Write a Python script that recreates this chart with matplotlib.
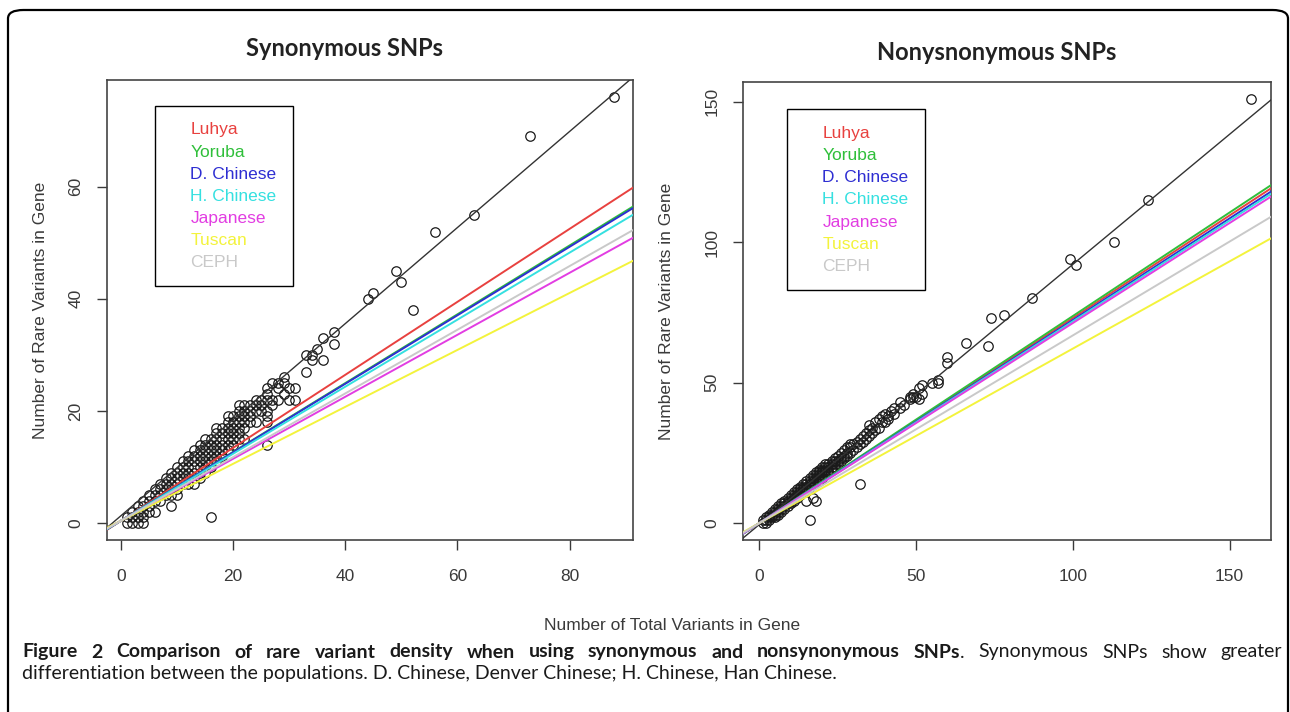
import matplotlib.pyplot as plt
from matplotlib.lines import Line2D
from matplotlib.patches import FancyBboxPatch

# populations shown in the legends and their fitted lines
POPULATIONS = ["Luhya", "Yoruba", "D. Chinese", "H. Chinese", "Japanese", "Tuscan", "CEPH"]
POP_COLORS = ["#e8413f", "#2fbf3a", "#2e2ed2", "#35e0e0", "#e23de2", "#f3f33c", "#c9c9c9"]

# synonymous: total variants -> list of rare variant counts
SYN_POINTS = {
    1: [0, 1], 2: [0, 1, 2], 3: [0, 1, 2, 3], 4: [0, 1, 2, 3, 4],
    5: [2, 3, 4, 5], 6: [2, 4, 5, 6], 7: [4, 5, 6, 7], 8: [5, 6, 7, 8],
    9: [3, 5, 6, 7, 8, 9], 10: [5, 6, 7, 8, 9, 10], 11: [7, 8, 9, 10, 11],
    12: [7, 8, 9, 10, 11, 12], 13: [7, 8, 9, 10, 11, 12, 13],
    14: [8, 9, 10, 11, 12, 13, 14], 15: [9, 10, 11, 12, 13, 14, 15],
    16: [1, 10, 11, 12, 13, 14, 15], 17: [11, 12, 13, 14, 15, 16, 17],
    18: [12, 13, 14, 15, 16, 17], 19: [13, 14, 15, 16, 17, 18, 19],
    20: [14, 15, 16, 17, 18, 19], 21: [15, 16, 17, 18, 19, 20, 21],
    22: [15, 17, 18, 19, 20, 21], 23: [18, 19, 20, 21], 24: [18, 20, 21, 22],
    25: [20, 21, 22], 26: [14, 18, 19, 20, 22, 23, 24], 27: [21, 22, 25],
    28: [22, 24, 25], 29: [23, 25, 26], 30: [22, 24], 31: [22, 24],
    33: [27, 30], 34: [29, 30], 35: [31], 36: [29, 33], 38: [32, 34],
    44: [40], 45: [41], 49: [45], 50: [43], 52: [38], 56: [52], 63: [55],
    73: [69], 88: [76],
}
SYN_ALL_LINE = (1.3, 0.857)   # intercept, slope of pooled fit
SYN_INTERCEPT = 0.4
SYN_SLOPES = [0.651, 0.614, 0.611, 0.598, 0.553, 0.508, 0.568]

# nonsynonymous
NONSYN_POINTS = {
    1: [0, 1], 2: [0, 1, 2], 3: [1, 2, 3], 4: [2, 3, 4], 5: [2, 3, 4, 5],
    6: [3, 4, 5, 6], 7: [4, 5, 6, 7], 8: [5, 6, 7, 8], 9: [6, 7, 8, 9],
    10: [7, 8, 9, 10], 11: [8, 9, 10, 11], 12: [9, 10, 11, 12],
    13: [10, 11, 12, 13], 14: [11, 12, 13, 14], 15: [8, 12, 13, 14, 15],
    16: [1, 13, 14, 15, 16], 17: [9, 14, 15, 16, 17], 18: [8, 15, 16, 17, 18],
    19: [15, 16, 17, 18, 19], 20: [16, 17, 18, 19, 20], 21: [18, 19, 20, 21],
    22: [18, 19, 20, 21], 23: [19, 20, 21, 22], 24: [20, 21, 22, 23],
    25: [21, 22, 24], 26: [22, 23, 25], 27: [23, 24, 26], 28: [24, 25, 27],
    29: [25, 27, 28], 30: [26, 28], 31: [27, 29], 32: [14, 28, 30],
    33: [29, 31], 34: [30, 32], 35: [31, 33, 35], 36: [32, 34], 37: [33, 36],
    38: [34, 37], 39: [36, 38], 40: [36, 39], 41: [37, 38], 42: [40],
    43: [39, 41], 45: [41, 43], 46: [42], 48: [44, 45], 49: [45, 46],
    50: [45], 51: [44, 48], 52: [46, 49], 55: [50], 57: [50, 51],
    60: [57, 59], 66: [64], 73: [63], 74: [73], 78: [74], 87: [80],
    99: [94], 101: [92], 113: [100], 124: [115], 157: [151],
}
NONSYN_ALL_LINE = (-0.5, 0.926)
NONSYN_INTERCEPT = 0.0
NONSYN_SLOPES = [0.730, 0.737, 0.723, 0.718, 0.712, 0.621, 0.668]

R_FONT = ["Liberation Sans", "DejaVu Sans"]
GREY = "#3a3a3a"


def unpack(points):
    xs, ys = [], []
    for total, rares in points.items():
        for r in rares:
            xs.append(total)
            ys.append(r)
    return xs, ys


def draw_panel(ax, points, all_line, intercept, slopes, xlim, ylim, xticks, yticks,
               legend_anchor, ylabel_pad):
    xs, ys = unpack(points)
    ax.plot(xs, ys, "o", mfc="none", mec="#1a1a1a", ms=6.8, mew=0.9, zorder=3)
    ax.axline((0, all_line[0]), slope=all_line[1], color="#333333", lw=1.0, zorder=4)
    for slope, col in zip(slopes, POP_COLORS):
        ax.axline((0, intercept), slope=slope, color=col, lw=1.4, zorder=5)

    ax.set_xlim(*xlim)
    ax.set_ylim(*ylim)
    ax.set_xticks(xticks)
    ax.set_yticks(yticks)
    ax.tick_params(direction="out", length=7, width=1.0, color=GREY, labelcolor=GREY,
                   labelsize=12.5)
    ax.tick_params(axis="x", pad=14)
    ax.tick_params(axis="y", pad=10)
    for lab in ax.get_yticklabels():
        lab.set_rotation(90)
        lab.set_va("center")
    for lab in ax.get_xticklabels() + ax.get_yticklabels():
        lab.set_family(R_FONT)
    for sp in ax.spines.values():
        sp.set_color("#444444")
        sp.set_linewidth(1.2)
    ax.set_ylabel("Number of Rare Variants in Gene", fontsize=12.5, color=GREY,
                  family=R_FONT, labelpad=ylabel_pad)

    handles = [Line2D([], [], lw=0, label=p) for p in POPULATIONS]
    leg = ax.legend(handles=handles, loc="upper left", bbox_to_anchor=legend_anchor,
                    frameon=True, fancybox=False, edgecolor="black", framealpha=1,
                    handlelength=1.0, handletextpad=0.1, borderpad=0.95,
                    labelspacing=0.40, borderaxespad=0,
                    prop={"family": R_FONT, "size": 12.5})
    leg.get_frame().set_linewidth(1.0)
    for txt, col in zip(leg.get_texts(), POP_COLORS):
        txt.set_color(col)


fig = plt.figure(figsize=(12.9, 7.12), dpi=100)
W, H = 1290, 712

ax1 = fig.add_axes([107 / W, 1 - 540 / H, 526 / W, 460 / H])
ax2 = fig.add_axes([743 / W, 1 - 540 / H, 528 / W, 458 / H])

draw_panel(ax1, SYN_POINTS, SYN_ALL_LINE, SYN_INTERCEPT, SYN_SLOPES,
           (-2.5, 91.3), (-3.04, 79.04), [0, 20, 40, 60, 80], [0, 20, 40, 60],
           (0.091, 0.944), 15)
draw_panel(ax2, NONSYN_POINTS, NONSYN_ALL_LINE, NONSYN_INTERCEPT, NONSYN_SLOPES,
           (-5.24, 163.24), (-6.04, 157.04), [0, 50, 100, 150], [0, 50, 100, 150],
           (0.083, 0.94), 22)

fig.text(345 / W, 1 - 49 / H, "Synonymous SNPs", fontsize=17, fontweight="bold",
         family="Lato", color="#222222", ha="center", va="center")
fig.text(997 / W, 1 - 53 / H, "Nonysnonymous SNPs", fontsize=17, fontweight="bold",
         family="Lato", color="#222222", ha="center", va="center")

fig.text(672 / W, 1 - 625 / H, "Number of Total Variants in Gene", ha="center",
         va="center", fontsize=12.5, color=GREY, family=R_FONT)

# rounded border around the figure panel
border = FancyBboxPatch((8 / W, -0.05), 1280 / W, 1 - 10 / H + 0.05,
                        boxstyle="round,pad=0,rounding_size=0.012",
                        transform=fig.transFigure, fill=False, lw=1.6,
                        ec="black", clip_on=False)
fig.patches.append(border)

# caption, first line justified word by word
cap_bold = "Figure 2 Comparison of rare variant density when using synonymous and nonsynonymous SNPs"
cap_rest = "Synonymous SNPs show greater"
cap_line2 = "differentiation between the populations. D. Chinese, Denver Chinese; H. Chinese, Han Chinese."
CAP_FONT = "Lato"
CAP_SIZE = 14
CAP_Y1, CAP_Y2 = 652, 673

renderer = fig.canvas.get_renderer()
words = [fig.text(0, 1 - CAP_Y1 / H, w, fontsize=CAP_SIZE, family=CAP_FONT,
                  fontweight="bold", va="center", color="#1a1a1a")
         for w in cap_bold.split()]
dot = fig.text(0, 1 - CAP_Y1 / H, ".", fontsize=CAP_SIZE, family=CAP_FONT,
               va="center", color="#1a1a1a")
rest = [fig.text(0, 1 - CAP_Y1 / H, w, fontsize=CAP_SIZE, family=CAP_FONT,
                 va="center", color="#1a1a1a") for w in cap_rest.split()]

groups = [[t] for t in words[:-1]] + [[words[-1], dot]] + [[t] for t in rest]
widths = [sum(t.get_window_extent(renderer).width for t in g) for g in groups]
x0, x1 = 22, 1282
gap = (x1 - x0 - sum(widths)) / (len(groups) - 1)
x = x0
for g, wd in zip(groups, widths):
    xx = x
    for t in g:
        t.set_x(xx / W)
        xx += t.get_window_extent(renderer).width
    x += wd + gap

fig.text(22 / W, 1 - CAP_Y2 / H, cap_line2, fontsize=CAP_SIZE, family=CAP_FONT,
         va="center", color="#1a1a1a")

fig.savefig("out.png", dpi=100)
